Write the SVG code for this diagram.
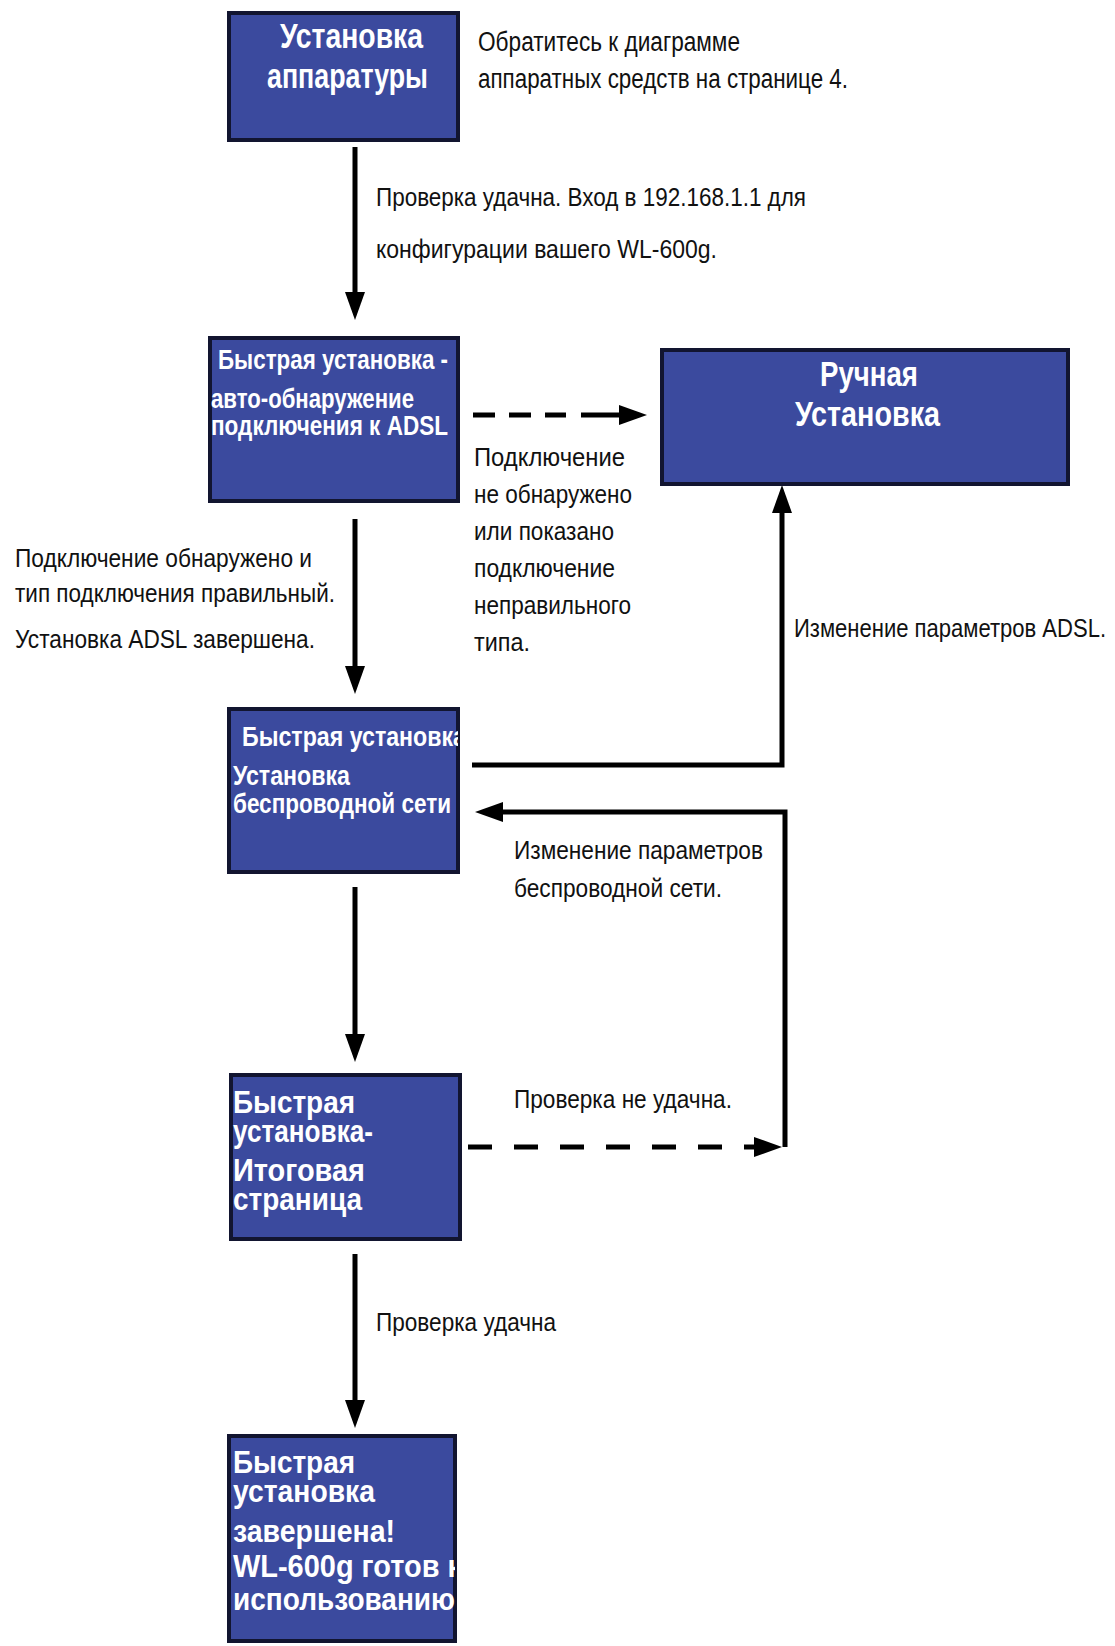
<svg xmlns="http://www.w3.org/2000/svg" width="1115" height="1646" viewBox="0 0 1115 1646">
<style>
.box{fill:#3b4a9e;stroke:#121530;stroke-width:4}
.bt{font-family:"Liberation Sans",Arial,sans-serif;font-weight:bold;fill:#fff}
.lt{font-family:"Liberation Sans",Arial,sans-serif;fill:#111;font-size:26px}
.ln{stroke:#000;stroke-width:5;fill:none;stroke-linejoin:miter}
.dash{stroke:#000;stroke-width:5;fill:none}
</style>
<defs>
<marker id="ah" viewBox="0 0 28 20" refX="2" refY="10" markerWidth="28" markerHeight="20" markerUnits="userSpaceOnUse" orient="auto">
<path d="M0,0 L28,10 L0,20 z" fill="#000"/>
</marker>
<clipPath id="clip4"><rect x="229" y="709" width="229" height="163"/></clipPath>
<clipPath id="clip6"><rect x="225" y="1436" width="230" height="205"/></clipPath>
</defs>
<rect width="1115" height="1646" fill="#fff"/>

<g id="connectors">
<path class="ln" d="M355,147 V294" marker-end="url(#ah)"/>
<path class="ln" d="M355,519 V668" marker-end="url(#ah)"/>
<path class="ln" d="M355,887 V1036" marker-end="url(#ah)"/>
<path class="ln" d="M355,1254 V1402" marker-end="url(#ah)"/>
<path class="dash" d="M473,415 H566" stroke-dasharray="22 14"/>
<path class="ln" d="M581,415 H621" marker-end="url(#ah)"/>
<path class="ln" d="M472,765 H782 V511" marker-end="url(#ah)"/>
<path class="ln" d="M785,1147 V812 H501" marker-end="url(#ah)"/>
<path class="dash" d="M468,1147 H722" stroke-dasharray="24 22"/>
<path class="ln" d="M744,1147 H756" marker-end="url(#ah)"/>
</g>

<g id="labels">
<text class="lt" x="478" y="51" textLength="262" lengthAdjust="spacingAndGlyphs" style="font-size:27px">Обратитесь к диаграмме</text>
<text class="lt" x="478" y="88" textLength="370" lengthAdjust="spacingAndGlyphs" style="font-size:27px">аппаратных средств на странице 4.</text>
<text class="lt" x="376" y="206" textLength="430" lengthAdjust="spacingAndGlyphs">Проверка удачна. Вход в 192.168.1.1 для</text>
<text class="lt" x="376" y="258" textLength="341" lengthAdjust="spacingAndGlyphs">конфигурации вашего  WL-600g.</text>
<text class="lt" x="474" y="466" textLength="151" lengthAdjust="spacingAndGlyphs">Подключение</text>
<text class="lt" x="474" y="503" textLength="158" lengthAdjust="spacingAndGlyphs">не обнаружено</text>
<text class="lt" x="474" y="540" textLength="140" lengthAdjust="spacingAndGlyphs">или показано</text>
<text class="lt" x="474" y="577" textLength="141" lengthAdjust="spacingAndGlyphs">подключение</text>
<text class="lt" x="474" y="614" textLength="157" lengthAdjust="spacingAndGlyphs">неправильного</text>
<text class="lt" x="474" y="651" textLength="56" lengthAdjust="spacingAndGlyphs">типа.</text>
<text class="lt" x="15" y="567" textLength="297" lengthAdjust="spacingAndGlyphs">Подключение обнаружено и</text>
<text class="lt" x="15" y="602" textLength="320" lengthAdjust="spacingAndGlyphs">тип подключения правильный.</text>
<text class="lt" x="15" y="648" textLength="300" lengthAdjust="spacingAndGlyphs">Установка ADSL завершена.</text>
<text class="lt" x="794" y="637" textLength="312" lengthAdjust="spacingAndGlyphs">Изменение параметров ADSL.</text>
<text class="lt" x="514" y="859" textLength="249" lengthAdjust="spacingAndGlyphs">Изменение параметров</text>
<text class="lt" x="514" y="897" textLength="208" lengthAdjust="spacingAndGlyphs">беспроводной сети.</text>
<text class="lt" x="514" y="1108" textLength="218" lengthAdjust="spacingAndGlyphs">Проверка не удачна.</text>
<text class="lt" x="376" y="1331" textLength="180" lengthAdjust="spacingAndGlyphs">Проверка удачна</text>
</g>

<g id="node-hardware">
<rect class="box" x="229" y="13" width="229" height="127"/>
<text class="bt" x="280" y="48" font-size="35" textLength="143" lengthAdjust="spacingAndGlyphs">Установка</text>
<text class="bt" x="267" y="88" font-size="35" textLength="161" lengthAdjust="spacingAndGlyphs">аппаратуры</text>
</g>

<g id="node-autodetect">
<rect class="box" x="210" y="338" width="248" height="163"/>
<text class="bt" x="218" y="369" font-size="28" textLength="230" lengthAdjust="spacingAndGlyphs">Быстрая установка -</text>
<text class="bt" x="211" y="408" font-size="28" textLength="203" lengthAdjust="spacingAndGlyphs">авто-обнаружение</text>
<text class="bt" x="211" y="435" font-size="28" textLength="237" lengthAdjust="spacingAndGlyphs">подключения к ADSL</text>
</g>

<g id="node-manual">
<rect class="box" x="662" y="350" width="406" height="134"/>
<text class="bt" x="820" y="386" font-size="35" textLength="98" lengthAdjust="spacingAndGlyphs">Ручная</text>
<text class="bt" x="795" y="426" font-size="35" textLength="145" lengthAdjust="spacingAndGlyphs">Установка</text>
</g>

<g id="node-wireless">
<rect class="box" x="229" y="709" width="229" height="163"/>
<g clip-path="url(#clip4)">
<text class="bt" x="242" y="746" font-size="28" textLength="224" lengthAdjust="spacingAndGlyphs">Быстрая установка</text>
<text class="bt" x="233" y="785" font-size="28" textLength="117" lengthAdjust="spacingAndGlyphs">Установка</text>
<text class="bt" x="233" y="813" font-size="28" textLength="218" lengthAdjust="spacingAndGlyphs">беспроводной сети</text>
</g>
</g>

<g id="node-summary">
<rect class="box" x="231" y="1075" width="229" height="164"/>
<text class="bt" x="233" y="1113" font-size="32" textLength="122" lengthAdjust="spacingAndGlyphs">Быстрая</text>
<text class="bt" x="233" y="1142" font-size="32" textLength="140" lengthAdjust="spacingAndGlyphs">установка-</text>
<text class="bt" x="233" y="1181" font-size="32" textLength="132" lengthAdjust="spacingAndGlyphs">Итоговая</text>
<text class="bt" x="233" y="1210" font-size="32" textLength="129" lengthAdjust="spacingAndGlyphs">страница</text>
</g>

<g id="node-done">
<rect class="box" x="229" y="1436" width="226" height="205"/>
<g clip-path="url(#clip6)">
<text class="bt" x="233" y="1473" font-size="32" textLength="122" lengthAdjust="spacingAndGlyphs">Быстрая</text>
<text class="bt" x="233" y="1502" font-size="32" textLength="142" lengthAdjust="spacingAndGlyphs">установка</text>
<text class="bt" x="233" y="1542" font-size="32" textLength="162" lengthAdjust="spacingAndGlyphs">завершена!</text>
<text class="bt" x="233" y="1577" font-size="32" textLength="229" lengthAdjust="spacingAndGlyphs">WL-600g готов к</text>
<text class="bt" x="233" y="1610" font-size="32" textLength="222" lengthAdjust="spacingAndGlyphs">использованию</text>
</g>
</g>
</svg>
